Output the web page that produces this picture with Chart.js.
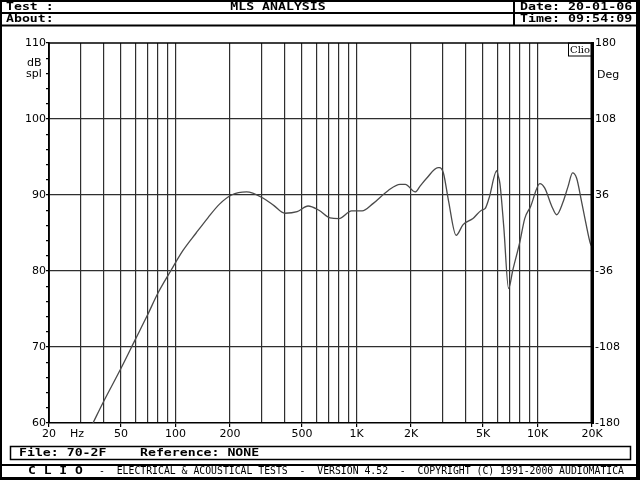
<!DOCTYPE html>
<html>
<head>
<meta charset="utf-8">
<script src="https://cdn.jsdelivr.net/npm/chart.js@4.4.1/dist/chart.umd.min.js"></script>
<style>
  body { margin: 0; background: #fff; }
  canvas { display: block; }
</style>
</head>
<body>
<canvas id="mls" width="640" height="480"></canvas>
<script>
// response curve (Hz / dB spl)
var freqs = [35, 40, 50, 60, 70, 80, 94, 110, 130, 151, 175, 204, 247, 304, 350, 402, 470, 540, 620, 714, 800,
             940, 1073, 1238, 1498, 1740, 1860, 2110, 2250, 2440, 2820, 2870, 3020, 3220, 3550, 3880, 4400, 4900,
             5130, 5400, 5960, 6050, 6200, 6510, 6920, 7300, 8000, 8500, 9160, 10300, 10970, 12000, 12770, 13800,
             14740, 15620, 16450, 17460, 18500, 19600, 20000];
var spl = [60.0, 62.8, 67.2, 71.0, 74.2, 77.1, 80.0, 82.7, 85.0, 87.0, 88.8, 90.0, 90.4, 89.6, 88.6, 87.6, 87.8, 88.55, 88.0, 87.0, 86.9,
           87.9, 87.9, 88.9, 90.6, 91.4, 91.4, 90.4, 91.2, 92.2, 93.6, 93.6, 92.9, 89.3, 84.7, 86.1, 86.9, 88.0,
           88.2, 89.6, 93.2, 92.6, 91.5, 85.8, 77.7, 80.1, 83.9, 86.9, 88.5, 91.5, 90.9, 88.5, 87.4, 89.0,
           91.1, 92.9, 92.2, 89.3, 86.3, 83.6, 83.2];

var gridFreqs = [20, 30, 40, 50, 60, 70, 80, 90, 100, 200, 300, 400, 500, 600, 700, 800, 900,
                 1000, 2000, 3000, 4000, 5000, 6000, 7000, 8000, 9000, 10000, 20000];
var freqLabels = { 20: '20', 50: '50', 100: '100', 200: '200', 500: '500', 1000: '1K',
                   2000: '2K', 5000: '5K', 10000: '10K', 20000: '20K' };
var degLabels = [-180, -108, -36, 36, 108, 180];

var points = [];
for (var i = 0; i < freqs.length; i++) {
    points.push({ x: freqs[i], y: spl[i] });
}

var MONO = '"DejaVu Sans Mono", "Liberation Mono", monospace';
var SANS = '"DejaVu Sans", Verdana, sans-serif';

// DOS style text, a bit wider than the font gives
function wide(ctx, text, x, y, sx, align) {
    ctx.save();
    ctx.translate(x, y);
    ctx.scale(sx, 1);
    ctx.textAlign = align || 'left';
    ctx.fillText(text, 0, 0);
    ctx.restore();
}

var cliof = {
    id: 'cliof',
    beforeDraw: function(chart) {
        var ctx = chart.ctx;
        ctx.save();
        ctx.fillStyle = '#fff';
        ctx.fillRect(0, 0, 640, 480);
        ctx.restore();
    },
    afterDraw: function(chart) {
        var ctx = chart.ctx;
        var a = chart.chartArea;
        ctx.save();

        // plot frame
        ctx.strokeStyle = '#000';
        ctx.lineWidth = 1.5;
        ctx.beginPath();
        ctx.moveTo(a.left, a.bottom);
        ctx.lineTo(a.left, a.top);
        ctx.lineTo(a.right, a.top);
        ctx.stroke();
        ctx.lineWidth = 3;
        ctx.beginPath();
        ctx.moveTo(a.right, a.top);
        ctx.lineTo(a.right, a.bottom);
        ctx.stroke();

        // Clio tag
        ctx.lineWidth = 1;
        ctx.strokeRect(568.5, a.top, a.right - 568.5, 13);
        ctx.fillStyle = '#000';
        ctx.font = '10px "DejaVu Serif", "Liberation Serif", serif';
        ctx.textBaseline = 'middle';
        ctx.textAlign = 'left';
        ctx.fillText('Clio', 570, a.top + 7, 20);

        // axis units
        ctx.font = '11px ' + SANS;
        ctx.fillText('dB', 27, 63);
        ctx.fillText('spl', 26, 74);
        ctx.fillText('Deg', 597, 75);
        ctx.fillText('Hz', 70, 434);

        // outer border
        ctx.fillRect(0, 0, 640, 2);
        ctx.fillRect(0, 0, 2, 480);
        ctx.fillRect(636, 0, 4, 480);
        ctx.fillRect(0, 477, 640, 3);

        // header
        ctx.lineWidth = 2;
        ctx.beginPath();
        ctx.moveTo(0, 13); ctx.lineTo(640, 13);
        ctx.moveTo(0, 25.5); ctx.lineTo(640, 25.5);
        ctx.moveTo(514, 0); ctx.lineTo(514, 25.5);
        ctx.stroke();
        ctx.font = 'bold 11px ' + MONO;
        wide(ctx, 'Test :', 6, 7.5, 1.2);
        wide(ctx, 'About:', 6, 19.5, 1.2);
        wide(ctx, 'Date: 20-01-06', 520, 7.5, 1.21);
        wide(ctx, 'Time: 09:54:09', 520, 19.5, 1.21);
        wide(ctx, 'MLS ANALYSIS', 278, 7.5, 1.2, 'center');

        // file box
        ctx.lineWidth = 1.5;
        ctx.strokeRect(10.5, 446.5, 620, 13);
        wide(ctx, 'File: 70-2F', 19, 453, 1.2);
        wide(ctx, 'Reference: NONE', 140, 453, 1.2);

        // footer
        ctx.lineWidth = 2;
        ctx.beginPath();
        ctx.moveTo(0, 465); ctx.lineTo(640, 465);
        ctx.stroke();
        wide(ctx, 'C L I O', 28, 471.5, 1.18);
        ctx.font = '10px ' + MONO;
        ctx.fillText('-  ELECTRICAL & ACOUSTICAL TESTS  -  VERSION 4.52  -  COPYRIGHT (C) 1991-2000 AUDIOMATICA', 99, 471.5, 525);

        ctx.restore();
    }
};

var chart = new Chart(document.getElementById('mls'), {
    type: 'line',
    data: {
        datasets: [{
            label: 'MLS',
            data: points,
            borderColor: '#4a4a4a',
            borderWidth: 1.3,
            pointRadius: 0,
            fill: false,
            cubicInterpolationMode: 'monotone',
            yAxisID: 'y'
        }]
    },
    options: {
        responsive: false,
        animation: false,
        devicePixelRatio: 1,
        layout: { padding: { top: 43, left: 0, right: 0, bottom: 0 } },
        plugins: { legend: { display: false }, tooltip: { enabled: false } },
        scales: {
            x: {
                type: 'logarithmic',
                min: 20,
                max: 20000,
                afterBuildTicks: function(scale) {
                    scale.ticks = gridFreqs.map(function(v) { return { value: v }; });
                },
                afterFit: function(scale) { scale.height = 57; },
                ticks: {
                    autoSkip: false,
                    maxRotation: 0,
                    padding: 1,
                    color: '#000',
                    font: { family: SANS, size: 11 },
                    callback: function(v) { return freqLabels[v] || ''; }
                },
                grid: {
                    color: '#2e2e2e',
                    lineWidth: 1.2,
                    tickLength: 4,
                    tickColor: function(c) { return freqLabels[c.tick.value] ? '#000' : 'rgba(0,0,0,0)'; }
                },
                border: { display: true, color: '#000', width: 1.5 }
            },
            y: {
                position: 'left',
                min: 60,
                max: 110,
                afterBuildTicks: function(scale) {
                    var t = [];
                    for (var v = 60; v <= 110; v += 2) t.push({ value: v });
                    scale.ticks = t;
                },
                afterFit: function(scale) { scale.width = 49; },
                ticks: {
                    autoSkip: false,
                    padding: 0,
                    color: '#000',
                    font: { family: SANS, size: 11 },
                    callback: function(v) { return v % 10 === 0 ? String(v) : ''; }
                },
                grid: {
                    tickLength: 3,
                    tickColor: '#000',
                    lineWidth: 1.2,
                    color: function(c) {
                        var v = c.tick.value;
                        return (v % 10 === 0 && v > 60 && v < 110) ? '#2e2e2e' : 'rgba(0,0,0,0)';
                    }
                },
                border: { display: true, color: '#000', width: 1.5 }
            },
            deg: {
                position: 'right',
                min: -180,
                max: 180,
                afterBuildTicks: function(scale) {
                    var t = [];
                    for (var i = 0; i <= 50; i++) t.push({ value: -180 + 7.2 * i });
                    scale.ticks = t;
                },
                afterFit: function(scale) { scale.width = 48; },
                ticks: {
                    autoSkip: false,
                    padding: 1,
                    color: '#000',
                    font: { family: SANS, size: 11 },
                    callback: function(v) {
                        var r = Math.round(v);
                        return (Math.abs(v - r) < 0.01 && degLabels.indexOf(r) >= 0) ? String(r) : '';
                    }
                },
                grid: { drawOnChartArea: false, tickLength: 2, tickColor: '#000' },
                border: { display: true, color: '#000', width: 3 }
            }
        }
    },
    plugins: [cliof]
});
</script>
</body>
</html>
